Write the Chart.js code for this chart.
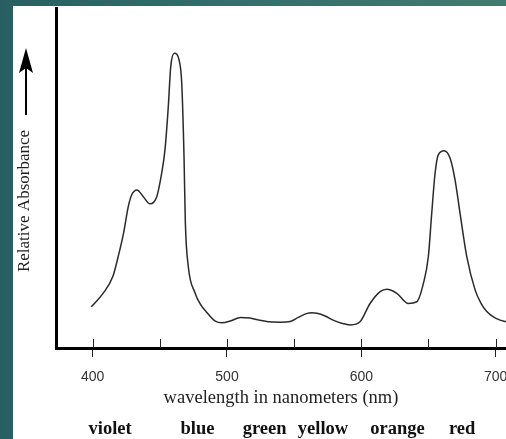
<!DOCTYPE html>
<html>
<head>
<meta charset="utf-8">
<script src="https://cdn.jsdelivr.net/npm/chart.js@4"></script>
<style>
  html, body { margin: 0; padding: 0; }
  body {
    width: 506px; height: 439px; overflow: hidden;
    background: linear-gradient(90deg, #295f62 0%, #33706b 50%, #3e7c6f 100%);
  }
  #panel { position: absolute; left: 13px; top: 6px; width: 493px; height: 433px; background: #fff; }
  #chart { display: block; }
</style>
</head>
<body>
<div id="panel"><canvas id="chart" width="493" height="433"></canvas></div>
<script>
// wavelength (nm) and relative absorbance
const wavelengths = [399, 408, 415, 419, 423, 426.5, 429, 433, 437.7, 442.7, 447.7, 451.4, 453.8, 456.3, 458.1, 460.8, 464.3, 466.3, 468, 469, 471.2, 476.2, 480, 486, 491, 496, 503, 510, 517, 524, 532, 540, 547, 553, 559, 563, 567, 573, 579, 586, 592, 599, 606.5, 614, 619, 626.4, 635, 641.3, 646.2, 649.9, 652.4, 654.9, 657.3, 661.6, 666.1, 669.8, 673.5, 678.5, 684.7, 689, 693.4, 698, 703.3, 707.7];
const absorbance = [0.121, 0.162, 0.210, 0.269, 0.338, 0.416, 0.450, 0.465, 0.445, 0.424, 0.445, 0.515, 0.582, 0.710, 0.827, 0.867, 0.847, 0.779, 0.563, 0.368, 0.239, 0.162, 0.130, 0.100, 0.080, 0.074, 0.080, 0.090, 0.088, 0.082, 0.077, 0.076, 0.078, 0.090, 0.101, 0.104, 0.102, 0.094, 0.082, 0.072, 0.068, 0.077, 0.131, 0.166, 0.173, 0.161, 0.131, 0.136, 0.190, 0.269, 0.396, 0.514, 0.568, 0.580, 0.558, 0.494, 0.396, 0.269, 0.171, 0.132, 0.107, 0.092, 0.082, 0.077];

const tickValues = [400, 450, 500, 550, 600, 650, 700];
const tickLabels = ["400", "", "500", "", "600", "", "700"];

const colorNames = ["violet", "blue", "green", "yellow", "orange", "red"];
const colorCenters = [413, 478, 528, 571.5, 627, 675];

const xTitle = "wavelength in nanometers (nm)";
const yTitle = "Relative Absorbance";

const canvasChart = document.getElementById("chart");

// ticks inside the plot, y title with arrow, colour names under the axis
const extras = {
  id: "extras",
  afterDraw(chart) {
    const ctx = chart.ctx, x = chart.scales.x, area = chart.chartArea;
    ctx.save();
    ctx.strokeStyle = "#222";
    ctx.lineWidth = 1;
    tickValues.forEach((v) => {
      const px = Math.round(x.getPixelForValue(v)) + 0.5;
      ctx.beginPath();
      ctx.moveTo(px, area.bottom);
      ctx.lineTo(px, area.bottom - 9);
      ctx.stroke();
    });

    // y title, rotated
    ctx.fillStyle = "#222";
    ctx.font = "17px 'Liberation Serif', serif";
    ctx.textAlign = "center";
    ctx.textBaseline = "middle";
    ctx.translate(12, 195);
    ctx.rotate(-Math.PI / 2);
    ctx.fillText(yTitle, 0, 0);
    ctx.restore();

    // arrow
    ctx.save();
    ctx.strokeStyle = "#000";
    ctx.fillStyle = "#000";
    ctx.lineWidth = 2;
    ctx.beginPath();
    ctx.moveTo(13, 109);
    ctx.lineTo(13, 60);
    ctx.stroke();
    ctx.beginPath();
    ctx.moveTo(13, 42);
    ctx.lineTo(20, 67);
    ctx.lineTo(13, 62);
    ctx.lineTo(6, 67);
    ctx.closePath();
    ctx.fill();

    // colour names
    ctx.font = "bold 18.5px 'Liberation Serif', serif";
    ctx.textAlign = "center";
    ctx.textBaseline = "middle";
    ctx.fillStyle = "#111";
    colorNames.forEach((name, i) => {
      ctx.fillText(name, x.getPixelForValue(colorCenters[i]), 423);
    });
    ctx.restore();
  },
};

new Chart(canvasChart, {
  type: "line",
  data: {
    labels: wavelengths,
    datasets: [
      {
        data: wavelengths.map((w, i) => ({ x: w, y: absorbance[i] })),
        borderColor: "#2a2a2a",
        borderWidth: 1.5,
        pointRadius: 0,
        cubicInterpolationMode: "monotone",
        fill: false,
      },
    ],
  },
  options: {
    responsive: false,
    animation: false,
    events: [],
    layout: { padding: { left: 43, top: 2, right: 0, bottom: 30 } },
    plugins: { legend: { display: false }, tooltip: { enabled: false } },
    scales: {
      x: {
        type: "linear",
        min: 372.7,
        max: 707.7,
        afterBuildTicks: (axis) => {
          axis.ticks = tickValues.map((v) => ({ value: v }));
        },
        afterFit: (axis) => {
          axis.paddingLeft = 0;
          axis.paddingRight = 0;
        },
        grid: {
          drawOnChartArea: false,
          drawTicks: true,
          tickLength: 9,
          lineWidth: 1,
          color: (c) => (c.tick && c.tick.value % 100 === 0 ? "#222" : "rgba(0,0,0,0)"),
        },
        border: { display: true, color: "#000", width: 3 },
        ticks: {
          autoSkip: false,
          maxRotation: 0,
          padding: 12,
          color: "#333",
          font: { family: "'Liberation Sans', Arial, sans-serif", size: 14 },
          callback: (value) => tickLabels[tickValues.indexOf(value)] ?? "",
        },
        title: {
          display: true,
          text: xTitle,
          color: "#222",
          padding: { top: -11, bottom: 0 },
          font: { family: "'Liberation Serif', serif", size: 18.5 },
        },
      },
      y: {
        min: 0,
        max: 1,
        grid: { display: false, drawTicks: false },
        border: { display: true, color: "#000", width: 3 },
        ticks: { display: false },
      },
    },
  },
  plugins: [extras],
});
</script>
</body>
</html>
